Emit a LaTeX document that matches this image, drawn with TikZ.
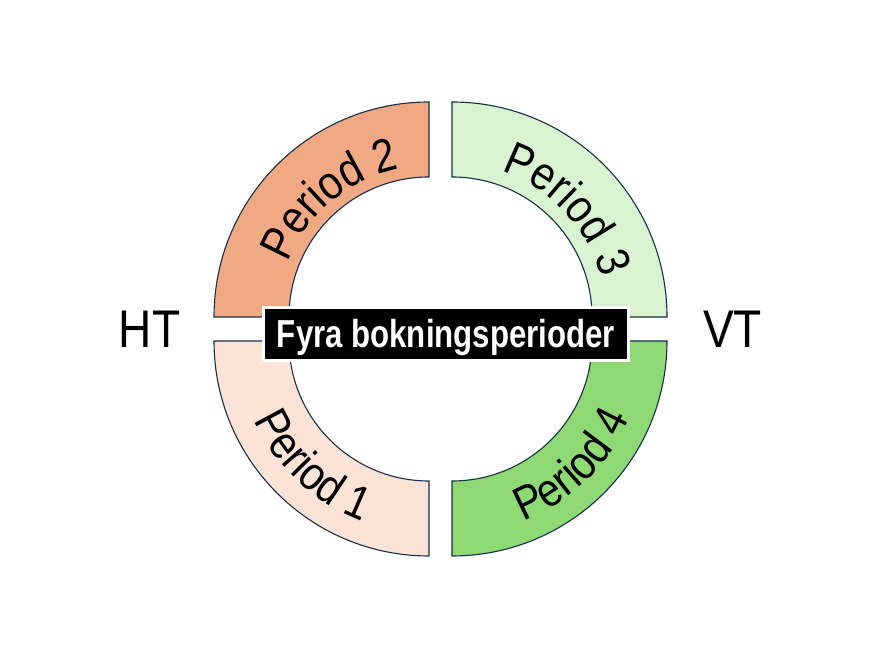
\documentclass[tikz,border=0pt]{standalone}
\usepackage{fontspec}
\usetikzlibrary{decorations.text}
\newfontfamily\labelfont[FakeStretch=0.87]{Liberation Sans}
\newfontfamily\titlefont[FakeStretch=0.8]{Liberation Sans}
\definecolor{ringEdge}{HTML}{15304A}
\definecolor{pOne}{HTML}{FBE3D6}
\definecolor{pTwo}{HTML}{F1A983}
\definecolor{pThree}{HTML}{D9F2D0}
\definecolor{pFour}{HTML}{8ED973}
\newcommand{\plabelfont}{\fontsize{47}{50}\selectfont\labelfont}

\begin{document}
\begin{tikzpicture}[
        x=1pt, y=1pt,
        segment/.style={draw=ringEdge, line width=1.1pt},
        period/.style={decorate, decoration={text along path, text align=center, text={|\plabelfont|#1}}},
        side/.style={inner sep=0pt, font=\fontsize{53}{56}\selectfont\labelfont},
        titlebox/.style={fill=black, draw=black!45, line width=0.4pt, double=white, double distance=2.4pt, minimum width=365pt, minimum height=53pt, inner sep=0pt, text=white, text height=28pt, text depth=0pt, font=\fontsize{39}{42}\selectfont\titlefont\bfseries}
      ]
        \useasboundingbox (0,0) rectangle (880,660);
        \fill[white] (0,0) rectangle (880,660);

        % centres of the four quarters
        \coordinate (c1) at (429,319);
        \coordinate (c2) at (429,343);
        \coordinate (c3) at (452,343);
        \coordinate (c4) at (452,319);

        % ring segments
        \draw[segment, fill=pTwo, shift={(c2)}] (180:215) arc[start angle=180, end angle=90, radius=215] -- (90:140) arc[start angle=90, end angle=180, radius=140] -- cycle;
        \draw[segment, fill=pThree, shift={(c3)}] (90:215) arc[start angle=90, end angle=0, radius=215] -- (0:140) arc[start angle=0, end angle=90, radius=140] -- cycle;
        \draw[segment, fill=pOne, shift={(c1)}] (180:215) arc[start angle=180, end angle=270, radius=215] -- (270:140) arc[start angle=270, end angle=180, radius=140] -- cycle;
        \draw[segment, fill=pFour, shift={(c4)}] (270:215) arc[start angle=270, end angle=360, radius=215] -- (360:140) arc[start angle=360, end angle=270, radius=140] -- cycle;

        % period labels
        \path[shift={(c2)}, period={Period 2}] (175:151) arc[start angle=175, end angle=85, radius=151];
        \path[shift={(c3)}, period={Period 3}] (88:154) arc[start angle=88, end angle=-2, radius=154];
        \path[shift={(c1)}, period={Period 1}] (182:192) arc[start angle=182, end angle=272, radius=192];
        \path[shift={(c4)}, period={Period 4}] (269:194) arc[start angle=269, end angle=359, radius=194];

        % halves of the year
        \node[side] (ht) at (149.5,331) {HT};
        \node[side] (vt) at (732.5,331) {VT};

        \node[titlebox] (title) at (446,326) {Fyra bokningsperioder};
      \end{tikzpicture}
\end{document}
